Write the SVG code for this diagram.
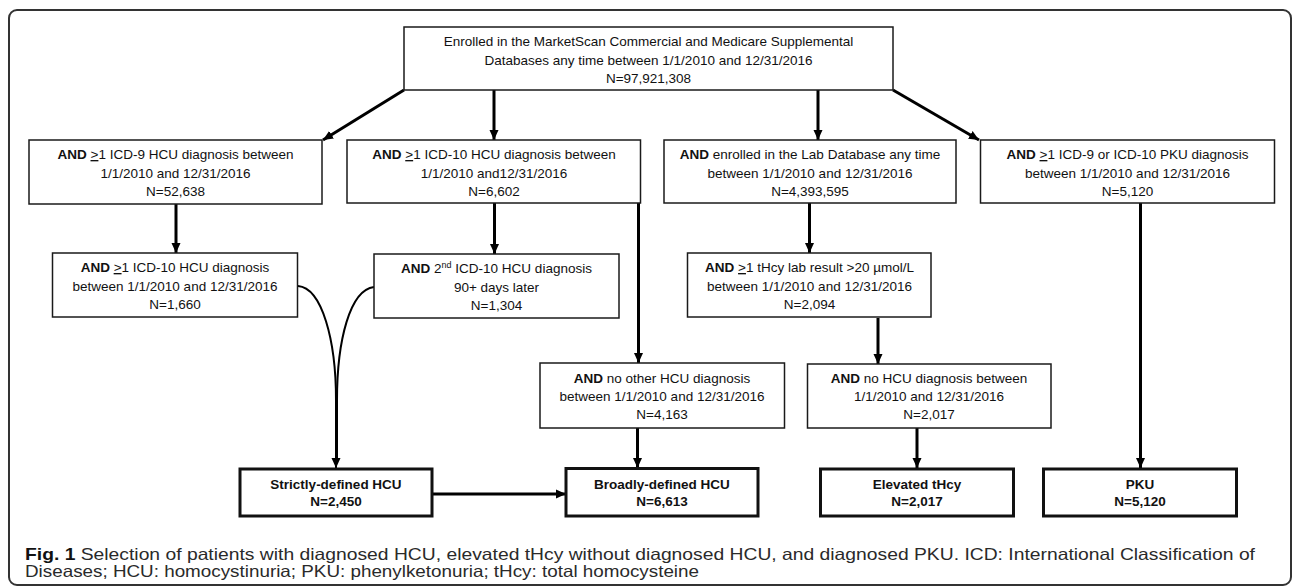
<svg xmlns="http://www.w3.org/2000/svg" width="1292" height="586" viewBox="0 0 1292 586">
<style>
.box{fill:#fff;stroke:#1a1a1a;stroke-width:1.5}
.tbox{fill:#fff;stroke:#111;stroke-width:3}
.t{font-family:"Liberation Sans",Arial,sans-serif;font-size:13.5px;fill:#111;text-anchor:middle}
.b{font-weight:bold}
.con{stroke:#000;stroke-width:3;fill:none}
.cur{stroke:#000;stroke-width:2;fill:none}
.cap{font-family:"Liberation Sans",Arial,sans-serif;font-size:16.5px;fill:#2a2a2a}
</style>
<defs>
<marker id="arr" markerWidth="10" markerHeight="10" refX="10" refY="5" orient="auto" markerUnits="userSpaceOnUse">
<path d="M0,0.5 L10,5 L0,9.5 z" fill="#000"/>
</marker>
</defs>
<rect x="9" y="10" width="1282" height="575" rx="8" fill="#fff" stroke="#333" stroke-width="2"/>

<g id="connectors">
<line class="con" x1="404" y1="90" x2="323" y2="140" marker-end="url(#arr)"/>
<line class="con" x1="494" y1="90" x2="494" y2="140" marker-end="url(#arr)"/>
<line class="con" x1="818" y1="90" x2="818" y2="140" marker-end="url(#arr)"/>
<line class="con" x1="893" y1="90" x2="979" y2="140" marker-end="url(#arr)"/>
<line class="con" x1="176" y1="204" x2="176" y2="253" marker-end="url(#arr)"/>
<line class="con" x1="494.5" y1="203" x2="494.5" y2="254" marker-end="url(#arr)"/>
<line class="con" x1="638.5" y1="203" x2="638.5" y2="363" marker-end="url(#arr)"/>
<line class="con" x1="809.5" y1="203" x2="809.5" y2="253" marker-end="url(#arr)"/>
<line class="con" x1="878" y1="318" x2="878" y2="364" marker-end="url(#arr)"/>
<line class="con" x1="1140.5" y1="203" x2="1140.5" y2="468" marker-end="url(#arr)"/>
<line class="con" x1="637.5" y1="428" x2="637.5" y2="468" marker-end="url(#arr)"/>
<line class="con" x1="917" y1="428" x2="917" y2="468" marker-end="url(#arr)"/>
<line class="con" x1="432" y1="494" x2="566" y2="494" marker-end="url(#arr)"/>
<path class="cur" d="M298,286 C322,288 336,340 336,400 L336,468" marker-end="url(#arr)"/>
<path class="cur" d="M374,287 C350,290 337,340 337,400 L337,460"/>
</g>

<g id="n-top">
<rect class="box" x="404" y="27" width="489" height="63"/>
<text class="t" x="648.5" y="46">Enrolled in the MarketScan Commercial and Medicare Supplemental</text>
<text class="t" x="648.5" y="64.5">Databases any time between 1/1/2010 and 12/31/2016</text>
<text class="t" x="648.5" y="83">N=97,921,308</text>
</g>

<g id="n-icd9">
<rect class="box" x="29" y="140" width="293" height="64"/>
<text class="t" x="175.5" y="159"><tspan class="b">AND</tspan> <tspan text-decoration="underline">&gt;</tspan>1 ICD-9 HCU diagnosis between</text>
<text class="t" x="175.5" y="177.5">1/1/2010 and 12/31/2016</text>
<text class="t" x="175.5" y="196">N=52,638</text>
</g>

<g id="n-icd10">
<rect class="box" x="347" y="140" width="293.5" height="63"/>
<text class="t" x="494" y="159"><tspan class="b">AND</tspan> <tspan text-decoration="underline">&gt;</tspan>1 ICD-10 HCU diagnosis between</text>
<text class="t" x="494" y="177.5">1/1/2010 and12/31/2016</text>
<text class="t" x="494" y="196">N=6,602</text>
</g>

<g id="n-lab">
<rect class="box" x="664" y="140" width="292" height="63"/>
<text class="t" x="810" y="159"><tspan class="b">AND</tspan> enrolled in the Lab Database any time</text>
<text class="t" x="810" y="177.5">between 1/1/2010 and 12/31/2016</text>
<text class="t" x="810" y="196">N=4,393,595</text>
</g>

<g id="n-pku-dx">
<rect class="box" x="980.5" y="140" width="294" height="63"/>
<text class="t" x="1127.5" y="159"><tspan class="b">AND</tspan> <tspan text-decoration="underline">&gt;</tspan>1 ICD-9 or ICD-10 PKU diagnosis</text>
<text class="t" x="1127.5" y="177.5">between 1/1/2010 and 12/31/2016</text>
<text class="t" x="1127.5" y="196">N=5,120</text>
</g>

<g id="n-icd10b">
<rect class="box" x="52.5" y="253" width="245" height="64"/>
<text class="t" x="175" y="272"><tspan class="b">AND</tspan> <tspan text-decoration="underline">&gt;</tspan>1 ICD-10 HCU diagnosis</text>
<text class="t" x="175" y="290.5">between 1/1/2010 and 12/31/2016</text>
<text class="t" x="175" y="309">N=1,660</text>
</g>

<g id="n-2nd">
<rect class="box" x="374" y="254" width="245" height="64"/>
<text class="t" x="496.5" y="273"><tspan class="b">AND</tspan> 2<tspan font-size="9" dy="-5">nd</tspan><tspan dy="5"> ICD-10 HCU diagnosis</tspan></text>
<text class="t" x="496.5" y="291.5">90+ days later</text>
<text class="t" x="496.5" y="310">N=1,304</text>
</g>

<g id="n-thcy">
<rect class="box" x="687.5" y="253" width="243.5" height="64"/>
<text class="t" x="809.5" y="272"><tspan class="b">AND</tspan> <tspan text-decoration="underline">&gt;</tspan>1 tHcy lab result &gt;20 µmol/L</text>
<text class="t" x="809.5" y="290.5">between 1/1/2010 and 12/31/2016</text>
<text class="t" x="809.5" y="309">N=2,094</text>
</g>

<g id="n-noother">
<rect class="box" x="540" y="363" width="244.5" height="65"/>
<text class="t" x="662" y="382.5"><tspan class="b">AND</tspan> no other HCU diagnosis</text>
<text class="t" x="662" y="400.5">between 1/1/2010 and 12/31/2016</text>
<text class="t" x="662" y="418.5">N=4,163</text>
</g>

<g id="n-nohcu">
<rect class="box" x="807.5" y="364" width="243.5" height="64"/>
<text class="t" x="929" y="383"><tspan class="b">AND</tspan> no HCU diagnosis between</text>
<text class="t" x="929" y="401">1/1/2010 and 12/31/2016</text>
<text class="t" x="929" y="419">N=2,017</text>
</g>

<g id="n-strict">
<rect class="tbox" x="240" y="469" width="192" height="47"/>
<text class="t b" x="336" y="488.5">Strictly-defined HCU</text>
<text class="t b" x="336" y="505.5">N=2,450</text>
</g>

<g id="n-broad">
<rect class="tbox" x="566" y="468.5" width="192" height="47.5"/>
<text class="t b" x="662" y="488.5">Broadly-defined HCU</text>
<text class="t b" x="662" y="505.5">N=6,613</text>
</g>

<g id="n-elev">
<rect class="tbox" x="820.5" y="469" width="193" height="47"/>
<text class="t b" x="917" y="488.5">Elevated tHcy</text>
<text class="t b" x="917" y="505.5">N=2,017</text>
</g>

<g id="n-pku">
<rect class="tbox" x="1043.5" y="469" width="193" height="47"/>
<text class="t b" x="1140" y="488.5">PKU</text>
<text class="t b" x="1140" y="505.5">N=5,120</text>
</g>

<g id="caption">
<text class="cap" x="25" y="560" textLength="1230" lengthAdjust="spacingAndGlyphs"><tspan font-weight="bold" fill="#111">Fig. 1</tspan> Selection of patients with diagnosed HCU, elevated tHcy without diagnosed HCU, and diagnosed PKU. ICD: International Classification of</text>
<text class="cap" x="25" y="577" textLength="674" lengthAdjust="spacingAndGlyphs">Diseases; HCU: homocystinuria; PKU: phenylketonuria; tHcy: total homocysteine</text>
</g>
</svg>
